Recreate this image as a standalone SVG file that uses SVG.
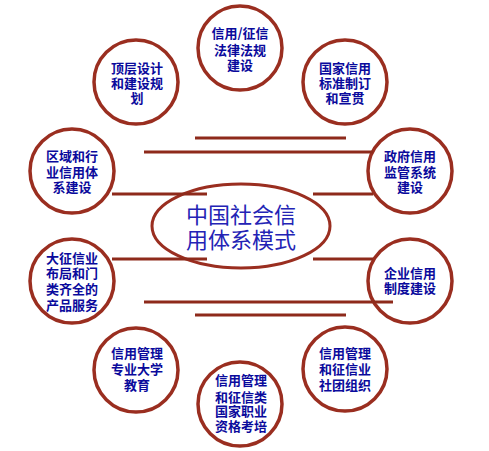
<svg xmlns="http://www.w3.org/2000/svg" width="489" height="451" viewBox="0 0 489 451">
<style>
.c{fill:#fff;stroke:#9a2e20;stroke-width:3.5}
.t{font-family:"Noto Sans CJK SC","Noto Sans",sans-serif;font-size:13px;font-weight:bold;fill:#0a0a9c;text-anchor:middle}
.m{font-family:"Noto Sans CJK SC","Noto Sans",sans-serif;font-size:22px;fill:#2323b5;text-anchor:middle}
.l{stroke:#8e2a1b;stroke-width:3}
</style>
<rect width="489" height="451" fill="#fff"/>
<g id="center">
<ellipse cx="241" cy="226" rx="89" ry="42" fill="#fff" stroke="#9a2e20" stroke-width="3"/>
<text class="m" x="241" y="223">中国社会信</text>
<text class="m" x="241" y="248">用体系模式</text>
</g>
<g id="n-top">
<circle class="c" cx="240" cy="48" r="42"/>
<text class="t" x="240" y="38">信用/征信</text>
<text class="t" x="240" y="55">法律法规</text>
<text class="t" x="240" y="70">建设</text>
</g>
<g id="n-topleft">
<circle class="c" cx="136" cy="82" r="42"/>
<text class="t" x="137" y="73">顶层设计</text>
<text class="t" x="137" y="88">和建设规</text>
<text class="t" x="137" y="103">划</text>
</g>
<g id="n-topright">
<circle class="c" cx="345" cy="82" r="42"/>
<text class="t" x="345" y="73">国家信用</text>
<text class="t" x="345" y="88">标准制订</text>
<text class="t" x="345" y="103">和宣贯</text>
</g>
<g id="n-left1">
<circle class="c" cx="72" cy="171" r="42"/>
<text class="t" x="72" y="161">区域和行</text>
<text class="t" x="72" y="177">业信用体</text>
<text class="t" x="72" y="192">系建设</text>
</g>
<g id="n-right1">
<circle class="c" cx="410" cy="171" r="42"/>
<text class="t" x="410" y="161">政府信用</text>
<text class="t" x="410" y="177">监管系统</text>
<text class="t" x="410" y="192">建设</text>
</g>
<g id="n-left2">
<circle class="c" cx="72" cy="281" r="42"/>
<text class="t" x="72" y="263">大征信业</text>
<text class="t" x="72" y="278">布局和门</text>
<text class="t" x="72" y="294">类齐全的</text>
<text class="t" x="72" y="310">产品服务</text>
</g>
<g id="n-right2">
<circle class="c" cx="410" cy="281" r="42"/>
<text class="t" x="410" y="278">企业信用</text>
<text class="t" x="410" y="293">制度建设</text>
</g>
<g id="n-bottomleft">
<circle class="c" cx="136" cy="370" r="42"/>
<text class="t" x="137" y="358">信用管理</text>
<text class="t" x="137" y="374">专业大学</text>
<text class="t" x="137" y="390">教育</text>
</g>
<g id="n-bottom">
<circle class="c" cx="240" cy="404" r="42"/>
<text class="t" x="241" y="385">信用管理</text>
<text class="t" x="241" y="402">和征信类</text>
<text class="t" x="241" y="416">国家职业</text>
<text class="t" x="241" y="431">资格考培</text>
</g>
<g id="n-bottomright">
<circle class="c" cx="345" cy="369" r="42"/>
<text class="t" x="345" y="358">信用管理</text>
<text class="t" x="345" y="374">和征信业</text>
<text class="t" x="345" y="390">社团组织</text>
</g>
<g id="connectors">
<line class="l" x1="195" y1="138" x2="346" y2="138"/>
<line class="l" x1="144" y1="152" x2="373" y2="152"/>
<line class="l" x1="112" y1="194" x2="207" y2="194"/>
<line class="l" x1="313" y1="194" x2="373" y2="194"/>
<line class="l" x1="112" y1="259" x2="207" y2="259"/>
<line class="l" x1="313" y1="259" x2="373" y2="259"/>
<line class="l" x1="144" y1="302" x2="393" y2="302"/>
<line class="l" x1="195" y1="315" x2="346" y2="315"/>
</g>
</svg>
